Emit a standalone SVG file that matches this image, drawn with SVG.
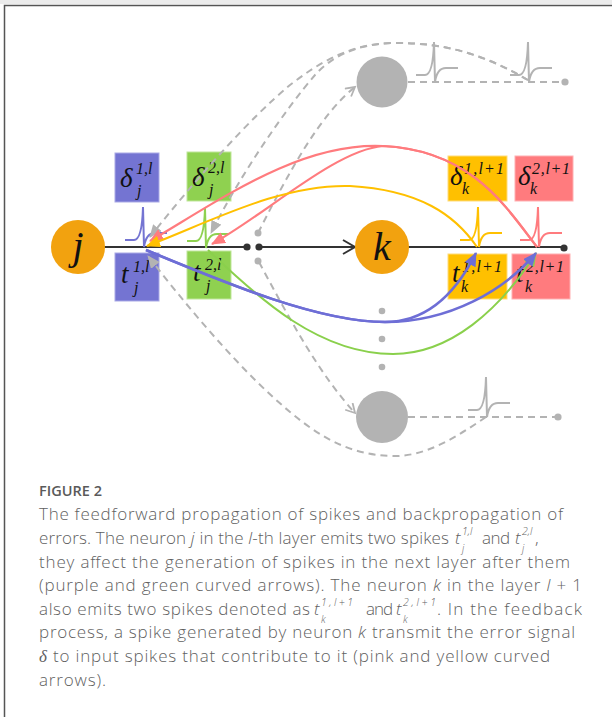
<svg xmlns="http://www.w3.org/2000/svg" width="612" height="717" viewBox="0 0 612 717">
<style>
.dash{fill:none;stroke:#b3b3b3;stroke-width:2;stroke-dasharray:7,5}
.gdot{fill:#b3b3b3}
.gcirc{fill:#b3b3b3}
.ncirc{fill:#f2a20f}
.main{stroke:#333;stroke-width:2;fill:none}
.spike{fill:none;stroke-width:2}
.math{font-family:"Liberation Serif","DejaVu Serif",serif;font-style:italic;fill:#111}
.big{font-size:27px}
.sm{font-size:16px}
.cap{font-family:"Open Sans","Noto Sans",sans-serif;font-size:17px;fill:#5f5f5f;font-weight:300}
.capi{font-family:"Open Sans","Noto Sans",sans-serif;font-style:italic;fill:#5f5f5f;font-weight:300}
.purple{fill:#7474d2;stroke:#a9a9e6;stroke-width:1}
.green{fill:#8fd150;stroke:#bfe69a;stroke-width:1}
.yellow{fill:#ffc000;stroke:#ffdc7a;stroke-width:1}
.pink{fill:#ff7b7e;stroke:#ffb0b2;stroke-width:1}
.cp{fill:none;stroke:#6e6ed6;stroke-width:2.6}
.cg{fill:none;stroke:#8ad04c;stroke-width:2}
.cr{fill:none;stroke:#ff7b7e;stroke-width:2.2}
.cy{fill:none;stroke:#ffc000;stroke-width:2}
</style>
<defs>
<path id="spk" d="M-18,-7 L-9,-7 Q-1,-7 0,-40 L1,0 Q3,-14 12,-14 L24,-14"/>
<marker id="ah-p" markerUnits="userSpaceOnUse" markerWidth="16" markerHeight="14" refX="13" refY="6" orient="auto"><path d="M0,0 L14,6 L0,12 z" fill="#6e6ed6"/></marker>
<marker id="ah-g" markerUnits="userSpaceOnUse" markerWidth="16" markerHeight="14" refX="13" refY="6" orient="auto"><path d="M0,0 L14,6 L0,12 z" fill="#8ad04c"/></marker>
<marker id="ah-r" markerUnits="userSpaceOnUse" markerWidth="16" markerHeight="14" refX="13" refY="6" orient="auto"><path d="M0,0 L14,6 L0,12 z" fill="#ff7b7e"/></marker>
<marker id="ah-y" markerUnits="userSpaceOnUse" markerWidth="16" markerHeight="14" refX="13" refY="6" orient="auto"><path d="M0,0 L14,6 L0,12 z" fill="#ffc000"/></marker>
<marker id="ah-gr" markerUnits="userSpaceOnUse" markerWidth="16" markerHeight="14" refX="12" refY="5.5" orient="auto"><path d="M0,0 L13,5.5 L0,11 z" fill="#b3b3b3"/></marker>
<marker id="chev" markerUnits="userSpaceOnUse" markerWidth="14" markerHeight="14" refX="10" refY="6" orient="auto"><path d="M1,1 L10,6 L1,11" fill="none" stroke="#b3b3b3" stroke-width="1.8"/></marker>
</defs>

<rect x="0" y="0" width="612" height="717" fill="#ffffff"/>
<rect x="0" y="0" width="612" height="4" fill="#ececec"/>
<path d="M4.5,717 L4.5,5.5 L612,5.5" fill="none" stroke="#555" stroke-width="1.5"/>

<g id="axon">
<line class="main" x1="100" y1="247" x2="247" y2="247"/>
<line class="main" x1="259" y1="247" x2="354" y2="247"/>
<path class="main" d="M343,240 L355,247 L343,254"/>
<line class="main" x1="405" y1="247" x2="563" y2="247"/>
<circle cx="247" cy="247" r="3.6" fill="#333"/>
<circle cx="259" cy="247" r="3.6" fill="#333"/>
<circle cx="564" cy="248" r="3.6" fill="#333"/>
</g>

<g id="box-delta-j1"><rect class="purple" x="115" y="153" width="44" height="49"/>
<text class="math big" x="120" y="187">δ</text><text class="math sm" x="136" y="174">1,l</text><text class="math sm" x="137" y="196">j</text></g>
<g id="box-t-j1"><rect class="purple" x="115" y="253" width="44" height="48"/>
<text class="math big" x="121" y="283">t</text><text class="math sm" x="133" y="272">1,l</text><text class="math sm" x="134" y="293">j</text></g>
<g id="box-delta-j2"><rect class="green" x="187" y="152" width="44" height="49"/>
<text class="math big" x="192" y="186">δ</text><text class="math sm" x="208" y="173">2,l</text><text class="math sm" x="209" y="195">j</text></g>
<g id="box-t-j2"><rect class="green" x="187" y="251" width="44" height="48"/>
<text class="math big" x="193" y="281">t</text><text class="math sm" x="205" y="270">2,l</text><text class="math sm" x="206" y="291">j</text></g>
<g id="box-delta-k1"><rect class="yellow" x="448" y="156" width="59" height="45"/>
<text class="math big" x="450" y="185">δ</text><text class="math sm" x="464" y="174" textLength="40">1,l+1</text><text class="math sm" x="462" y="194">k</text></g>
<g id="box-delta-k2"><rect class="pink" x="515" y="156" width="58" height="45"/>
<text class="math big" x="518" y="185">δ</text><text class="math sm" x="532" y="174" textLength="38">2,l+1</text><text class="math sm" x="530" y="194">k</text></g>
<g id="box-t-k1"><rect class="yellow" x="448" y="254" width="59" height="45"/>
<text class="math big" x="452" y="282">t</text><text class="math sm" x="462" y="272" textLength="40">1,l+1</text><text class="math sm" x="461" y="292">k</text></g>
<g id="box-t-k2"><rect class="pink" x="512" y="254" width="58" height="45"/>
<text class="math big" x="516" y="282">t</text><text class="math sm" x="526" y="272" textLength="38">2,l+1</text><text class="math sm" x="525" y="292">k</text></g>

<g id="spikes">
<use href="#spk" x="143" y="247" class="spike" stroke="#7474d2"/>
<use href="#spk" x="205" y="248" class="spike" stroke="#8fd150"/>
<use href="#spk" x="478" y="247" class="spike" stroke="#ffc000"/>
<use href="#spk" x="538" y="247" class="spike" stroke="#ff7b7e"/>
<use href="#spk" x="434" y="82" class="spike" stroke="#b3b3b3"/>
<use href="#spk" x="528" y="82" class="spike" stroke="#b3b3b3"/>
<use href="#spk" x="486" y="417" class="spike" stroke="#b3b3b3"/>
</g>

<g id="node-top"><circle class="gcirc" cx="382" cy="82" r="25.5"/></g>
<g id="node-bottom"><circle class="gcirc" cx="382" cy="417" r="26"/></g>
<g id="dots">
<circle class="gdot" cx="258" cy="233" r="3.5"/>
<circle class="gdot" cx="258" cy="261" r="3.5"/>
<circle class="gdot" cx="382" cy="311" r="3.3"/>
<circle class="gdot" cx="382" cy="339" r="3.3"/>
<circle class="gdot" cx="382" cy="367" r="3.3"/>
<circle class="gdot" cx="565" cy="82" r="3.6"/>
<circle class="gdot" cx="558" cy="417" r="3.6"/>
</g>

<g id="connectors">
<line class="dash" x1="408" y1="82" x2="562" y2="82"/>
<line class="dash" x1="408" y1="417" x2="555" y2="417"/>
<path class="dash" d="M528,80 C490,58 450,42 392,43 C350,44 320,62 290,85 C250,118 195,180 150,237" marker-end="url(#ah-gr)"/>
<path class="dash" d="M528,80 C490,58 450,42 392,43 C355,44 330,58 315,75 C285,110 240,175 211,233" marker-end="url(#ah-gr)"/>
<path class="dash" d="M258,233 C290,170 320,115 355,87" marker-end="url(#chev)"/>
<path class="dash" d="M486,417 C455,438 425,457 392,456 C350,455 320,437 290,412 C240,370 190,310 148,256" marker-end="url(#ah-gr)"/>
<path class="dash" d="M259,262 C290,320 320,375 355,413" marker-end="url(#chev)"/>

<path class="cg" d="M208,250 C260,300 320,354 393,354 C450,354 500,310 536,253" marker-end="url(#ah-g)"/>
<path class="cp" d="M146,250 C230,285 320,322 385,322 C425,322 455,295 476,253" marker-end="url(#ah-p)"/>
<path class="cp" d="M146,250 C230,285 320,322 385,322 C450,322 505,290 536,253" marker-end="url(#ah-p)"/>
<path class="cr" d="M537,247 C505,205 470,150 383,146 C300,142 220,200 150,241" marker-end="url(#ah-r)"/>
<path class="cr" d="M537,247 C505,205 470,150 383,146 C335,150 265,215 212,244" marker-end="url(#ah-r)"/>
<path class="cy" d="M477,247 C455,215 420,190 350,186 C280,184 210,222 147,246" marker-end="url(#ah-y)"/>
</g>

<g id="node-j"><circle class="ncirc" cx="78" cy="247" r="27"/><text class="math" x="78" y="259" font-size="40" text-anchor="middle">j</text></g>
<g id="node-k"><circle class="ncirc" cx="382" cy="247" r="27"/><text class="math" x="382" y="260" font-size="40" text-anchor="middle">k</text></g>

<g id="caption">
<text x="39" y="496" font-family="'Open Sans','Noto Sans',sans-serif" font-size="14.5" font-weight="600" fill="#5a5a5a" textLength="63">FIGURE 2</text>
<text class="cap" x="39" y="520" textLength="524">The feedforward propagation of spikes and backpropagation of</text>
<text class="cap" x="39" y="544" textLength="410">errors. The neuron <tspan font-style="italic">j</tspan> in the <tspan font-style="italic">l</tspan>-th layer emits two spikes</text>
<text class="capi" x="455" y="544" font-size="17">t</text>
<text class="capi" x="462" y="535" font-size="10.5">1,l</text>
<text class="capi" x="462" y="552" font-size="10">j</text>
<text class="cap" x="482" y="544" textLength="28">and</text>
<text class="capi" x="515" y="544" font-size="17">t</text>
<text class="capi" x="522" y="535" font-size="10.5">2,l</text>
<text class="capi" x="522" y="552" font-size="10">j</text>
<text class="cap" x="535" y="544">,</text>
<text class="cap" x="39" y="568" textLength="531">they affect the generation of spikes in the next layer after them</text>
<text class="cap" x="39" y="591" textLength="543">(purple and green curved arrows). The neuron <tspan font-style="italic">k</tspan> in the layer <tspan font-style="italic">l</tspan> + 1</text>
<text class="cap" x="39" y="615" textLength="271">also emits two spikes denoted as</text>
<text class="capi" x="314" y="615" font-size="17">t</text>
<text class="capi" x="321" y="606" font-size="10.5" textLength="32">1,l+1</text>
<text class="capi" x="321" y="623" font-size="10">k</text>
<text class="cap" x="366" y="615" textLength="27">and</text>
<text class="capi" x="396" y="615" font-size="17">t</text>
<text class="capi" x="403" y="606" font-size="10.5" textLength="33">2,l+1</text>
<text class="capi" x="403" y="623" font-size="10">k</text>
<text class="cap" x="437" y="615" textLength="145">. In the feedback</text>
<text class="cap" x="39" y="638" textLength="536">process, a spike generated by neuron <tspan font-style="italic">k</tspan> transmit the error signal</text>
<text class="cap" x="39" y="662" textLength="511"><tspan font-family="'Liberation Serif',serif" font-style="italic">δ</tspan> to input spikes that contribute to it (pink and yellow curved</text>
<text class="cap" x="39" y="686" textLength="67">arrows).</text>
</g>
</svg>
